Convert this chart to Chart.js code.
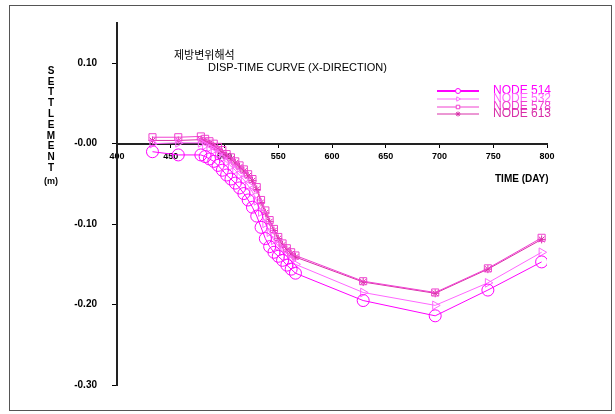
<!DOCTYPE html>
<html>
<head>
<meta charset="utf-8">
<script src="https://cdn.jsdelivr.net/npm/chart.js@4.4.1/dist/chart.umd.min.js"></script>
<style>
  body { margin: 0; background: #fff; }
  #wrap { width: 615px; height: 414px; }
</style>
</head>
<body>
<div id="wrap"><canvas id="settleChart" width="615" height="414"></canvas></div>
<script>
// time in days
const days = [433, 457, 478, 482, 486, 490, 494, 498, 502, 506, 510, 514, 518, 522, 526,
              530, 534, 538, 542, 546, 550, 554, 558, 562, 566, 629, 696, 745, 795];

// settlement (m) per node
const node514 = [-0.010, -0.014, -0.014, -0.016, -0.019, -0.022, -0.027, -0.033, -0.039, -0.044,
                 -0.049, -0.055, -0.062, -0.070, -0.079, -0.090, -0.104, -0.118, -0.128, -0.135,
                 -0.140, -0.145, -0.151, -0.156, -0.161, -0.195, -0.214, -0.182, -0.147];
const node532 = [0.000, 0.001, 0.001, -0.002, -0.005, -0.008, -0.013, -0.018, -0.023, -0.028,
                 -0.033, -0.039, -0.045, -0.052, -0.060, -0.071, -0.085, -0.099, -0.110, -0.120,
                 -0.127, -0.134, -0.140, -0.145, -0.150, -0.185, -0.201, -0.173, -0.135];
const node578 = [0.008, 0.008, 0.009, 0.006, 0.003, 0.000, -0.004, -0.008, -0.013, -0.017,
                 -0.022, -0.027, -0.032, -0.038, -0.044, -0.054, -0.070, -0.083, -0.095, -0.106,
                 -0.116, -0.124, -0.130, -0.135, -0.139, -0.171, -0.185, -0.155, -0.117];
const node613 = [0.004, 0.004, 0.005, 0.003, 0.000, -0.003, -0.007, -0.011, -0.015, -0.019,
                 -0.024, -0.029, -0.034, -0.040, -0.046, -0.057, -0.073, -0.086, -0.097, -0.108,
                 -0.118, -0.126, -0.132, -0.137, -0.141, -0.172, -0.186, -0.156, -0.119];

const xTicks = [400, 450, 500, 550, 600, 650, 700, 750, 800];
const yTicks = [-0.30, -0.20, -0.10, 0.00, 0.10];

const seriesNames = ['NODE 514', 'NODE 532', 'NODE 578', 'NODE 613'];
const seriesValues = [node514, node532, node578, node613];
const seriesColors = ['#ff00ff', '#ff66ff', '#f040d0', '#d830a8'];
const seriesStyles = ['circle', 'triangle', 'rect', 'star'];
const seriesRadius = [6, 5, 5, 4];
const seriesRotation = [0, 90, 0, 0];

const datasets = seriesNames.map((name, i) => ({
    label: name,
    data: days.map((d, j) => ({ x: d, y: seriesValues[i][j] })),
    showLine: true,
    borderColor: seriesColors[i],
    borderWidth: 1,
    backgroundColor: 'rgba(255,255,255,0)',
    pointStyle: seriesStyles[i],
    pointRadius: seriesRadius[i],
    pointRotation: seriesRotation[i],
    pointBorderColor: seriesColors[i],
    pointBorderWidth: 1,
    pointBackgroundColor: 'rgba(255,255,255,0)'
}));

const decorPlugin = {
    id: 'decor',
    afterDraw(chart) {
        const ctx = chart.ctx;
        ctx.save();
        // outer frame
        ctx.strokeStyle = '#555';
        ctx.lineWidth = 1;
        ctx.strokeRect(9.5, 5.5, 602, 405);

        ctx.fillStyle = '#000';
        ctx.textBaseline = 'middle';
        // titles
        ctx.textAlign = 'left';
        ctx.font = '11px "Noto Sans CJK KR"';
        ctx.fillText('제방변위해석', 174, 55);
        ctx.font = '11px "Liberation Sans"';
        ctx.fillText('DISP-TIME CURVE (X-DIRECTION)', 208, 68);

        // stacked y label
        ctx.textAlign = 'center';
        ctx.font = 'bold 10px "Liberation Sans"';
        const word = 'SETTLEMENT';
        for (let i = 0; i < word.length; i++) {
            ctx.fillText(word[i], 51, 71 + i * 10.8);
        }
        ctx.font = 'bold 9px "Liberation Sans"';
        ctx.fillText('(m)', 51, 182);

        // x label
        ctx.textAlign = 'left';
        ctx.font = 'bold 10px "Liberation Sans"';
        ctx.fillText('TIME (DAY)', 495, 179);

        // legend
        const rows = [91, 99, 107, 114];
        seriesNames.forEach((name, i) => {
            const y = rows[i];
            ctx.strokeStyle = seriesColors[i];
            ctx.lineWidth = i === 0 ? 2 : 1;
            ctx.beginPath();
            ctx.moveTo(437, y);
            ctx.lineTo(479, y);
            ctx.stroke();
            ctx.lineWidth = 1;
            ctx.fillStyle = '#fff';
            if (Chart.helpers && Chart.helpers.drawPoint) {
                Chart.helpers.drawPoint(ctx, {
                    pointStyle: seriesStyles[i],
                    radius: 2.5,
                    rotation: seriesRotation[i],
                    borderWidth: 1
                }, 458, y);
            }
            ctx.fillStyle = seriesColors[i];
            ctx.font = '12px "Liberation Sans"';
            ctx.fillText(name, 493, y);
        });
        ctx.restore();
    }
};

const ctx = document.getElementById('settleChart').getContext('2d');
new Chart(ctx, {
    type: 'scatter',
    data: { datasets },
    options: {
        responsive: false,
        animation: false,
        layout: { padding: { left: 0, right: 68, top: 23, bottom: 29 } },
        plugins: {
            legend: { display: false },
            tooltip: { enabled: false }
        },
        scales: {
            x: {
                type: 'linear',
                position: { y: 0 },
                min: 400,
                max: 800,
                afterBuildTicks: s => { s.ticks = xTicks.map(v => ({ value: v })); },
                ticks: {
                    color: '#000',
                    font: { family: 'Liberation Sans', size: 9, weight: 'bold' },
                    padding: 4,
                    maxRotation: 0,
                    autoSkip: false
                },
                grid: { drawOnChartArea: false, drawTicks: true, tickLength: 3, color: '#000' },
                border: { display: true, color: '#222', width: 2 }
            },
            y: {
                type: 'linear',
                min: -0.30,
                max: 0.15,
                afterBuildTicks: s => { s.ticks = yTicks.map(v => ({ value: v })); },
                afterFit: s => { s.width = 117; },
                ticks: {
                    color: '#000',
                    font: { family: 'Liberation Sans', size: 10, weight: 'bold' },
                    padding: 15,
                    callback: v => (Math.abs(v) < 1e-9 ? '-0.00' : Number(v).toFixed(2))
                },
                grid: { drawOnChartArea: false, drawTicks: true, tickLength: 5, color: '#000' },
                border: { display: true, color: '#222', width: 2 }
            }
        }
    },
    plugins: [decorPlugin]
});
</script>
</body>
</html>
